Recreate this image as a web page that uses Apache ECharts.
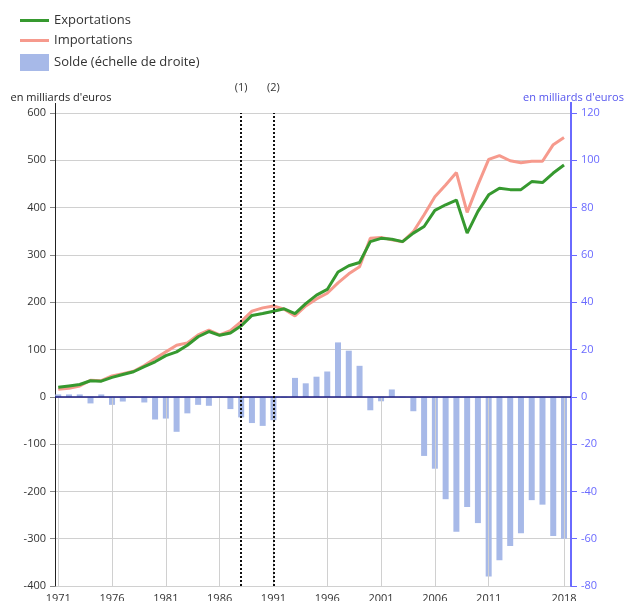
<!DOCTYPE html>
<html lang="fr">
<head>
    <meta charset="utf-8">
    <script src="https://cdn.jsdelivr.net/npm/echarts@6/dist/echarts.min.js"></script>
    <style>
        html, body { margin: 0; padding: 0; background: #fff; }
    </style>
</head>
<body>
<div id="main" style="width: 624px;height:601px;"></div>
<script type="text/javascript">
    // années et valeurs (milliards d'euros)
    var years = [];
    for (var y = 1971; y <= 2018; y++) years.push(y);

    var exportations = [20, 23, 26, 34, 33, 41, 47, 53, 64, 74, 87, 95, 109, 127, 138, 130, 135, 150, 172, 176,
        181, 186, 176, 197, 215, 227, 264, 277, 284, 328, 335, 333, 328, 346, 360, 394, 406, 416, 346, 392,
        427, 441, 438, 438, 455, 453, 473, 490];
    var importations = [16, 18, 23, 35, 34, 44, 49, 54, 66, 81, 95, 109, 114, 131, 141, 131, 140, 159, 181, 188,
        192, 185, 171, 192, 207, 219, 241, 260, 275, 335, 337, 332, 328, 349, 385, 423, 448, 474, 390, 448,
        502, 510, 499, 495, 498, 498, 533, 548];
    var solde = [1, 1, 1, -2.8, 1, -3.4, -2, -0.3, -2.4, -9.6, -9.2, -14.8, -7, -3.4, -3.8, -0.2, -5.2, -8.7, -11.1, -12.3,
        -9.9, -0.4, 8, 5.7, 8.5, 10.7, 23, 19.5, 13.1, -5.7, -1.9, 3.1, -0.3, -6.1, -25, -30.4, -43.3, -57.1, -46.6, -53.4,
        -76, -69.1, -63.1, -57.7, -43.7, -45.6, -58.9, -60];

    var labelYears = [1971, 1976, 1981, 1986, 1991, 1996, 2001, 2006, 2011, 2018];
    var ruptures = [[1988, '(1)'], [1991, '(2)']];

    function pairs(values) {
        return years.map(function (yr, i) { return [yr, values[i]]; });
    }

    var myChart = echarts.init(document.getElementById('main'));

    // lignes de repère : grille verticale sous zéro, axe zéro, ruptures
    var marks = [];
    labelYears.forEach(function (yr) {
        marks.push([{ coord: [yr, 0], lineStyle: { color: '#d0d0d0', width: 1, type: 'solid' } }, { coord: [yr, -400] }]);
    });
    marks.push({ yAxis: 0, lineStyle: { color: '#1a1a80', width: 1.5, type: 'solid' }, label: { show: false } });
    ruptures.forEach(function (r) {
        marks.push({
            xAxis: r[0],
            lineStyle: { color: '#111', width: 2, type: [2, 2] },
            label: { show: true, formatter: r[1], position: 'end', distance: 20, color: '#333', fontSize: 11 }
        });
    });

    var lineIcon = 'path://M0,0 L29,0 L29,3 L0,3 Z';

    var option = {
        textStyle: { fontFamily: 'Open Sans' },
        animation: false,
        legend: {
            orient: 'vertical',
            left: 15,
            top: 9,
            itemWidth: 29,
            itemHeight: 17,
            itemGap: 7,
            textStyle: { fontSize: 13, color: '#333' },
            data: [
                { name: 'Exportations', icon: lineIcon },
                { name: 'Importations', icon: lineIcon },
                { name: 'Solde (échelle de droite)', icon: 'rect' }
            ]
        },
        grid: { left: 55, right: 53, top: 113, bottom: 15, outerBoundsMode: 'none' },
        xAxis: {
            type: 'value',
            min: 1970.7,
            max: 2018.65,
            axisLine: { show: false },
            axisTick: { show: false },
            splitLine: { show: false },
            axisLabel: {
                customValues: labelYears,
                margin: 7,
                fontSize: 11,
                color: '#333',
                formatter: function (v) { return String(v); }
            }
        },
        yAxis: [{
            type: 'value',
            min: -400,
            max: 600,
            interval: 100,
            name: "en milliards d'euros",
            nameGap: 10,
            nameTextStyle: { color: '#222', fontSize: 11, padding: [0, 0, 0, 12] },
            axisLine: { show: true, lineStyle: { color: '#222', width: 1 } },
            axisTick: { show: true, length: 5, lineStyle: { color: '#888' } },
            axisLabel: { fontSize: 11, color: '#333', margin: 9 },
            splitLine: { lineStyle: { color: '#d0d0d0' } }
        }, {
            type: 'value',
            min: -80,
            max: 120,
            interval: 20,
            name: "en milliards d'euros",
            nameGap: 10,
            nameTextStyle: { color: '#5555ee', fontSize: 11, padding: [0, 0, 0, 5] },
            axisLine: { show: true, lineStyle: { color: '#6a6aff', width: 2 } },
            axisTick: { show: true, length: 6, lineStyle: { color: '#6a6aff' } },
            axisLabel: { fontSize: 11, color: '#6a6aff', margin: 10 },
            splitLine: { show: false }
        }],
        // prolongement des deux axes au-dessus de la zone de tracé
        graphic: [
            { type: 'line', shape: { x1: 55.5, y1: 103, x2: 55.5, y2: 113 }, style: { stroke: '#222', lineWidth: 1 } },
            { type: 'line', shape: { x1: 571, y1: 102, x2: 571, y2: 113 }, style: { stroke: '#6a6aff', lineWidth: 2 } }
        ],
        series: [{
            name: 'Solde (échelle de droite)',
            type: 'bar',
            yAxisIndex: 1,
            barWidth: 6,
            itemStyle: { color: '#a7b9e8' },
            data: pairs(solde),
            z: 1
        }, {
            name: 'Importations',
            type: 'line',
            symbol: 'none',
            lineStyle: { color: '#f69a8d', width: 3 },
            itemStyle: { color: '#f69a8d' },
            data: pairs(importations),
            z: 2
        }, {
            name: 'Exportations',
            type: 'line',
            symbol: 'none',
            lineStyle: { color: '#36992f', width: 3 },
            itemStyle: { color: '#36992f' },
            data: pairs(exportations),
            z: 3,
            markLine: {
                silent: true,
                symbol: ['none', 'none'],
                label: { show: false },
                data: marks
            }
        }]
    };

    myChart.setOption(option);
</script>
</body>
</html>
